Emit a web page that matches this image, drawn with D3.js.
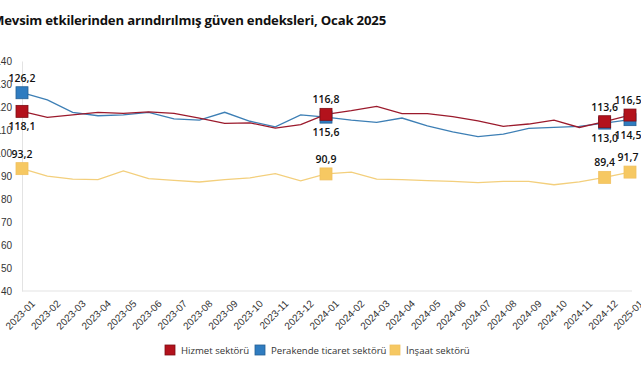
<!DOCTYPE html>
<html>
  <head>
    <meta charset="utf-8">
    <script src="https://d3js.org/d3.v7.min.js"></script>
    <style>
      body {
        margin: 0;
        background-color: #ffffff;
      }
      svg {
        font-family: "Open Sans", "DejaVu Sans", sans-serif;
      }
    </style>
  </head>

  <body>
    <script>
      const months = [
        "2023-01","2023-02","2023-03","2023-04","2023-05","2023-06","2023-07","2023-08",
        "2023-09","2023-10","2023-11","2023-12","2024-01","2024-02","2024-03","2024-04",
        "2024-05","2024-06","2024-07","2024-08","2024-09","2024-10","2024-11","2024-12","2025-01"
      ]
      const hizmet = [118.1,115.5,116.6,117.7,117.2,117.9,117.2,115.2,112.9,113.1,110.8,112.3,116.8,
        118.4,120.3,117.1,117.1,115.8,114.0,111.6,112.6,114.3,111.1,113.6,116.5]
      const perakende = [126.2,123.1,117.7,116.2,116.6,117.7,114.8,114.3,117.7,113.8,111.4,116.6,115.6,
        114.3,113.3,115.2,111.8,109.2,107.1,108.2,110.7,111.1,111.6,113.0,114.5]
      const insaat = [93.2,89.9,88.6,88.4,92.2,88.9,88.1,87.4,88.4,89.2,91.0,87.9,90.9,
        91.7,88.6,88.4,88.0,87.7,87.1,87.7,87.7,86.2,87.4,89.4,91.7]
      const yTicks = [40,50,60,70,80,90,100,110,120,130,140]
      const labeledIdx = [0,12,23,24]

      const seriesNames = ["Hizmet sektörü","Perakende ticaret sektörü","İnşaat sektörü"]

      const w = 641
      const h = 380

      const svg = d3.select("body")
        .append("svg")
          .attr("width",w)
          .attr("height",h)

      svg.append("text")
        .attr("x",-8)
        .attr("y",25)
        .attr("font-size",13.2)
        .attr("letter-spacing",-0.2)
        .attr("font-weight","bold")
        .attr("fill","#111")
        .text("Mevsim etkilerinden arındırılmış güven endeksleri, Ocak 2025")

      const xScale = d3.scalePoint()
        .domain(months)
        .range([22,630])
      const yScale = d3.scaleLinear()
        .domain([40,140])
        .range([291,61])

      // axes, only the light base lines and labels
      const yAxis = d3.axisLeft(yScale)
        .tickValues(yTicks)
        .tickSize(0)
        .tickPadding(10)
      const gy = svg.append("g")
        .attr("transform","translate(22,0)")
        .call(yAxis)
      gy.select(".domain").attr("stroke","#e3e3e3")
      gy.selectAll("text")
        .attr("font-size",10)
        .attr("fill","#333")
        .attr("font-family","inherit")

      const xAxis = d3.axisBottom(xScale)
        .tickSize(0)
        .tickPadding(6)
      const gx = svg.append("g")
        .attr("transform","translate(0,291)")
        .call(xAxis)
      gx.select(".domain")
        .attr("stroke","#e3e3e3")
        .attr("d","M22,0H632")
      gx.selectAll("text")
        .attr("font-size",10)
        .attr("fill","#333")
        .attr("font-family","inherit")
        .attr("text-anchor","end")
        .attr("transform","translate(4,4) rotate(-45)")

      const series = [
        {name: seriesNames[1], values: perakende, line: "#3d7fb5", fill: "#2f7cc0", stroke: "#245f93", labelBelow: [false,true,true,true]},
        {name: seriesNames[0], values: hizmet, line: "#9b1a2c", fill: "#b3121c", stroke: "#7e0d14", labelBelow: [true,false,false,false]},
        {name: seriesNames[2], values: insaat, line: "#f3cf7c", fill: "#f6c862", stroke: "#f0c060", labelBelow: [false,false,false,false]}
      ]

      const line = d3.line()
        .x((d,i) => xScale(months[i]))
        .y((d) => yScale(d))

      series.forEach((s) => {
        svg.append("path")
          .datum(s.values)
          .attr("fill","none")
          .attr("stroke",s.line)
          .attr("stroke-width",1.3)
          .attr("d",line)
      })

      const fmt = (v) => v.toFixed(1).replace(".",",")

      series.forEach((s) => {
        const g = svg.append("g")
        g.selectAll("rect")
          .data(labeledIdx)
          .enter()
          .append("rect")
            .attr("x",(i) => xScale(months[i]) - 6)
            .attr("y",(i) => yScale(s.values[i]) - 6)
            .attr("width",12)
            .attr("height",12)
            .attr("fill",s.fill)
            .attr("stroke",s.stroke)
            .attr("stroke-width",0.8)
        g.selectAll("text")
          .data(labeledIdx)
          .enter()
          .append("text")
            .attr("x",(i) => xScale(months[i]) + (i === 24 ? -2 : 0))
            .attr("y",(i,k) => yScale(s.values[i]) + (s.labelBelow[k] ? 19 : -11))
            .attr("text-anchor","middle")
            .attr("font-size",10.5)
            .attr("font-weight",600)
            .attr("fill","#111")
            .text((i) => fmt(s.values[i]))
      })

      // legend
      const legendItems = [
        {name: seriesNames[0], fill: "#b3121c", stroke: "#7e0d14", x: 165},
        {name: seriesNames[1], fill: "#2f7cc0", stroke: "#245f93", x: 255},
        {name: seriesNames[2], fill: "#f6c862", stroke: "#f0c060", x: 390}
      ]
      const legend = svg.append("g")
        .attr("id","legend")
      legend.selectAll("rect")
        .data(legendItems)
        .enter()
        .append("rect")
          .attr("x",(d) => d.x)
          .attr("y",345)
          .attr("width",10)
          .attr("height",10)
          .attr("fill",(d) => d.fill)
          .attr("stroke",(d) => d.stroke)
          .attr("stroke-width",0.8)
      legend.selectAll("text")
        .data(legendItems)
        .enter()
        .append("text")
          .attr("x",(d) => d.x + 16)
          .attr("y",354)
          .attr("font-size",9.6)
          .attr("fill","#333")
          .text((d) => d.name)
    </script>
  </body>
</html>
